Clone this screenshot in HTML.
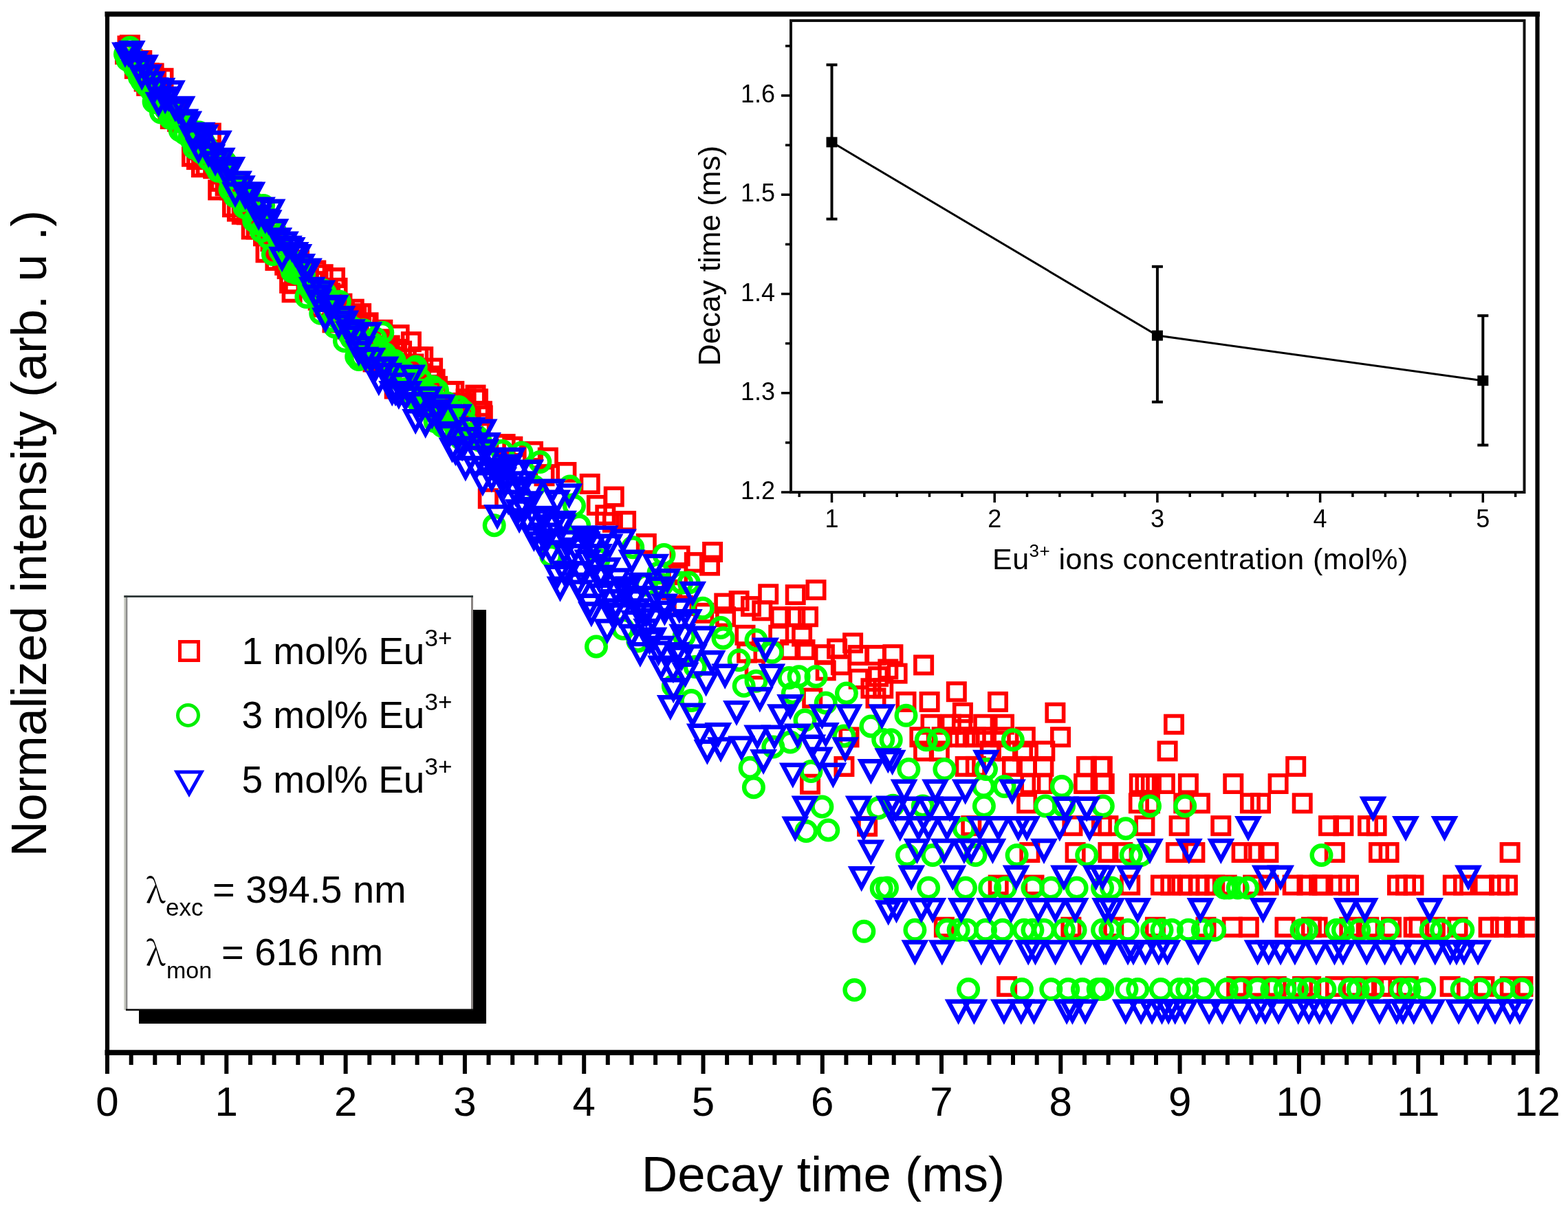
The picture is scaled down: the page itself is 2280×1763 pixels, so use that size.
<!DOCTYPE html><html><head><meta charset="utf-8"><title>Decay curves</title><style>html,body{margin:0;padding:0;background:#fff;overflow:hidden}svg{display:block}</style></head><body><svg width="2280" height="1763" viewBox="0 0 2280 1763">
<rect x="0" y="0" width="2280" height="1763" fill="#fff"/>
<defs><clipPath id="pc"><rect x="159" y="24" width="2073" height="1503"/></clipPath></defs>
<g fill="none" clip-path="url(#pc)">
<g stroke="#ff0000" stroke-width="5.6"><rect x="169.8" y="66.7" width="24.4" height="24.4"/><rect x="173.3" y="54.5" width="24.4" height="24.4"/><rect x="176.7" y="53.3" width="24.4" height="24.4"/><rect x="180.2" y="73.7" width="24.4" height="24.4"/><rect x="183.7" y="87.7" width="24.4" height="24.4"/><rect x="187.1" y="78.5" width="24.4" height="24.4"/><rect x="190.6" y="77.5" width="24.4" height="24.4"/><rect x="194.1" y="75.8" width="24.4" height="24.4"/><rect x="197.5" y="106.3" width="24.4" height="24.4"/><rect x="201.0" y="112.6" width="24.4" height="24.4"/><rect x="204.5" y="94.2" width="24.4" height="24.4"/><rect x="207.9" y="101.6" width="24.4" height="24.4"/><rect x="211.4" y="94.4" width="24.4" height="24.4"/><rect x="214.9" y="105.0" width="24.4" height="24.4"/><rect x="218.3" y="122.5" width="24.4" height="24.4"/><rect x="221.8" y="129.7" width="24.4" height="24.4"/><rect x="225.3" y="101.6" width="24.4" height="24.4"/><rect x="228.7" y="139.4" width="24.4" height="24.4"/><rect x="232.2" y="150.7" width="24.4" height="24.4"/><rect x="235.6" y="160.7" width="24.4" height="24.4"/><rect x="239.1" y="149.1" width="24.4" height="24.4"/><rect x="242.6" y="153.2" width="24.4" height="24.4"/><rect x="246.0" y="164.7" width="24.4" height="24.4"/><rect x="249.5" y="165.5" width="24.4" height="24.4"/><rect x="253.0" y="166.1" width="24.4" height="24.4"/><rect x="256.4" y="165.2" width="24.4" height="24.4"/><rect x="259.9" y="164.7" width="24.4" height="24.4"/><rect x="263.4" y="181.1" width="24.4" height="24.4"/><rect x="266.8" y="215.5" width="24.4" height="24.4"/><rect x="270.3" y="183.6" width="24.4" height="24.4"/><rect x="273.8" y="219.9" width="24.4" height="24.4"/><rect x="277.2" y="205.8" width="24.4" height="24.4"/><rect x="280.7" y="231.0" width="24.4" height="24.4"/><rect x="284.2" y="212.9" width="24.4" height="24.4"/><rect x="287.6" y="229.9" width="24.4" height="24.4"/><rect x="291.1" y="219.2" width="24.4" height="24.4"/><rect x="294.6" y="181.4" width="24.4" height="24.4"/><rect x="298.0" y="233.0" width="24.4" height="24.4"/><rect x="301.5" y="224.4" width="24.4" height="24.4"/><rect x="305.0" y="264.2" width="24.4" height="24.4"/><rect x="308.4" y="251.7" width="24.4" height="24.4"/><rect x="311.9" y="241.1" width="24.4" height="24.4"/><rect x="315.4" y="258.3" width="24.4" height="24.4"/><rect x="318.8" y="255.6" width="24.4" height="24.4"/><rect x="322.3" y="264.2" width="24.4" height="24.4"/><rect x="325.8" y="289.0" width="24.4" height="24.4"/><rect x="329.2" y="266.5" width="24.4" height="24.4"/><rect x="332.7" y="295.3" width="24.4" height="24.4"/><rect x="336.2" y="254.7" width="24.4" height="24.4"/><rect x="339.6" y="299.6" width="24.4" height="24.4"/><rect x="343.1" y="282.9" width="24.4" height="24.4"/><rect x="346.6" y="300.1" width="24.4" height="24.4"/><rect x="350.0" y="288.0" width="24.4" height="24.4"/><rect x="353.5" y="321.3" width="24.4" height="24.4"/><rect x="357.0" y="296.9" width="24.4" height="24.4"/><rect x="360.4" y="321.3" width="24.4" height="24.4"/><rect x="363.9" y="300.7" width="24.4" height="24.4"/><rect x="367.4" y="317.1" width="24.4" height="24.4"/><rect x="370.8" y="331.1" width="24.4" height="24.4"/><rect x="374.3" y="355.1" width="24.4" height="24.4"/><rect x="377.8" y="329.3" width="24.4" height="24.4"/><rect x="381.2" y="338.8" width="24.4" height="24.4"/><rect x="384.7" y="321.9" width="24.4" height="24.4"/><rect x="388.2" y="366.7" width="24.4" height="24.4"/><rect x="391.6" y="352.3" width="24.4" height="24.4"/><rect x="395.1" y="357.2" width="24.4" height="24.4"/><rect x="398.6" y="365.9" width="24.4" height="24.4"/><rect x="402.0" y="373.5" width="24.4" height="24.4"/><rect x="405.5" y="378.9" width="24.4" height="24.4"/><rect x="408.9" y="399.6" width="24.4" height="24.4"/><rect x="412.4" y="413.1" width="24.4" height="24.4"/><rect x="415.9" y="400.5" width="24.4" height="24.4"/><rect x="419.3" y="382.1" width="24.4" height="24.4"/><rect x="422.8" y="365.9" width="24.4" height="24.4"/><rect x="426.3" y="379.7" width="24.4" height="24.4"/><rect x="429.7" y="381.3" width="24.4" height="24.4"/><rect x="433.2" y="388.6" width="24.4" height="24.4"/><rect x="436.7" y="392.8" width="24.4" height="24.4"/><rect x="440.1" y="405.8" width="24.4" height="24.4"/><rect x="443.6" y="397.0" width="24.4" height="24.4"/><rect x="447.1" y="381.3" width="24.4" height="24.4"/><rect x="450.5" y="424.5" width="24.4" height="24.4"/><rect x="454.0" y="434.4" width="24.4" height="24.4"/><rect x="457.5" y="387.0" width="24.4" height="24.4"/><rect x="460.9" y="421.5" width="24.4" height="24.4"/><rect x="464.4" y="410.3" width="24.4" height="24.4"/><rect x="467.9" y="414.0" width="24.4" height="24.4"/><rect x="471.3" y="457.1" width="24.4" height="24.4"/><rect x="474.8" y="391.9" width="24.4" height="24.4"/><rect x="478.3" y="406.7" width="24.4" height="24.4"/><rect x="481.7" y="437.5" width="24.4" height="24.4"/><rect x="485.2" y="429.4" width="24.4" height="24.4"/><rect x="488.7" y="442.8" width="24.4" height="24.4"/><rect x="492.1" y="466.4" width="24.4" height="24.4"/><rect x="495.6" y="452.6" width="24.4" height="24.4"/><rect x="499.1" y="447.1" width="24.4" height="24.4"/><rect x="502.5" y="437.5" width="24.4" height="24.4"/><rect x="506.0" y="447.1" width="24.4" height="24.4"/><rect x="509.5" y="461.7" width="24.4" height="24.4"/><rect x="512.9" y="443.9" width="24.4" height="24.4"/><rect x="516.4" y="482.4" width="24.4" height="24.4"/><rect x="519.9" y="458.2" width="24.4" height="24.4"/><rect x="523.3" y="457.1" width="24.4" height="24.4"/><rect x="526.8" y="482.4" width="24.4" height="24.4"/><rect x="530.3" y="514.2" width="24.4" height="24.4"/><rect x="533.7" y="499.8" width="24.4" height="24.4"/><rect x="537.2" y="483.7" width="24.4" height="24.4"/><rect x="540.7" y="481.2" width="24.4" height="24.4"/><rect x="544.1" y="467.6" width="24.4" height="24.4"/><rect x="547.6" y="514.2" width="24.4" height="24.4"/><rect x="551.1" y="498.4" width="24.4" height="24.4"/><rect x="554.5" y="490.3" width="24.4" height="24.4"/><rect x="558.0" y="506.9" width="24.4" height="24.4"/><rect x="561.5" y="553.3" width="24.4" height="24.4"/><rect x="564.9" y="495.7" width="24.4" height="24.4"/><rect x="568.4" y="474.9" width="24.4" height="24.4"/><rect x="571.9" y="498.4" width="24.4" height="24.4"/><rect x="575.3" y="534.5" width="24.4" height="24.4"/><rect x="578.8" y="528.0" width="24.4" height="24.4"/><rect x="582.2" y="518.7" width="24.4" height="24.4"/><rect x="585.7" y="485.0" width="24.4" height="24.4"/><rect x="589.2" y="517.2" width="24.4" height="24.4"/><rect x="592.6" y="529.6" width="24.4" height="24.4"/><rect x="596.1" y="506.9" width="24.4" height="24.4"/><rect x="599.6" y="537.8" width="24.4" height="24.4"/><rect x="603.0" y="506.9" width="24.4" height="24.4"/><rect x="606.5" y="555.1" width="24.4" height="24.4"/><rect x="610.0" y="553.3" width="24.4" height="24.4"/><rect x="613.4" y="534.5" width="24.4" height="24.4"/><rect x="616.9" y="523.3" width="24.4" height="24.4"/><rect x="620.4" y="539.4" width="24.4" height="24.4"/><rect x="623.8" y="549.7" width="24.4" height="24.4"/><rect x="627.3" y="596.8" width="24.4" height="24.4"/><rect x="630.8" y="575.9" width="24.4" height="24.4"/><rect x="634.2" y="575.9" width="24.4" height="24.4"/><rect x="637.7" y="575.9" width="24.4" height="24.4"/><rect x="641.2" y="556.9" width="24.4" height="24.4"/><rect x="644.6" y="577.9" width="24.4" height="24.4"/><rect x="648.1" y="556.9" width="24.4" height="24.4"/><rect x="651.6" y="573.9" width="24.4" height="24.4"/><rect x="655.0" y="584.0" width="24.4" height="24.4"/><rect x="658.5" y="577.9" width="24.4" height="24.4"/><rect x="662.0" y="573.9" width="24.4" height="24.4"/><rect x="665.4" y="568.1" width="24.4" height="24.4"/><rect x="668.9" y="596.8" width="24.4" height="24.4"/><rect x="672.4" y="594.6" width="24.4" height="24.4"/><rect x="675.8" y="622.4" width="24.4" height="24.4"/><rect x="679.3" y="562.4" width="24.4" height="24.4"/><rect x="682.8" y="568.1" width="24.4" height="24.4"/><rect x="686.2" y="603.5" width="24.4" height="24.4"/><rect x="684.2" y="586.0" width="24.4" height="24.4"/><rect x="722.4" y="633.9" width="24.4" height="24.4"/><rect x="733.1" y="637.5" width="24.4" height="24.4"/><rect x="762.8" y="644.6" width="24.4" height="24.4"/><rect x="784.6" y="653.5" width="24.4" height="24.4"/><rect x="811.2" y="674.8" width="24.4" height="24.4"/><rect x="779.3" y="680.1" width="24.4" height="24.4"/><rect x="845.5" y="691.7" width="24.4" height="24.4"/><rect x="880.5" y="710.3" width="24.4" height="24.4"/><rect x="855.7" y="722.8" width="24.4" height="24.4"/><rect x="868.1" y="737.0" width="24.4" height="24.4"/><rect x="878.7" y="747.6" width="24.4" height="24.4"/><rect x="897.9" y="745.8" width="24.4" height="24.4"/><rect x="697.6" y="713.0" width="24.4" height="24.4"/><rect x="927.6" y="778.7" width="24.4" height="24.4"/><rect x="976.4" y="796.5" width="24.4" height="24.4"/><rect x="972.9" y="824.0" width="24.4" height="24.4"/><rect x="688.7" y="586.0" width="24.4" height="24.4"/><rect x="689.6" y="592.2" width="24.4" height="24.4"/><rect x="964.9" y="845.6" width="24.4" height="24.4"/><rect x="980.9" y="868.7" width="24.4" height="24.4"/><rect x="1023.9" y="790.8" width="24.4" height="24.4"/><rect x="997.6" y="805.9" width="24.4" height="24.4"/><rect x="1019.8" y="810.4" width="24.4" height="24.4"/><rect x="1105.0" y="852.1" width="24.4" height="24.4"/><rect x="1144.5" y="853.0" width="24.4" height="24.4"/><rect x="1174.3" y="845.9" width="24.4" height="24.4"/><rect x="1041.1" y="865.4" width="24.4" height="24.4"/><rect x="1062.4" y="861.9" width="24.4" height="24.4"/><rect x="1079.8" y="869.9" width="24.4" height="24.4"/><rect x="1122.8" y="885.0" width="24.4" height="24.4"/><rect x="1162.8" y="885.0" width="24.4" height="24.4"/><rect x="1144.1" y="885.0" width="24.4" height="24.4"/><rect x="1010.9" y="879.6" width="24.4" height="24.4"/><rect x="1042.9" y="885.0" width="24.4" height="24.4"/><rect x="1071.3" y="911.6" width="24.4" height="24.4"/><rect x="1120.1" y="911.6" width="24.4" height="24.4"/><rect x="1153.9" y="913.4" width="24.4" height="24.4"/><rect x="1158.3" y="932.9" width="24.4" height="24.4"/><rect x="1137.0" y="932.9" width="24.4" height="24.4"/><rect x="1227.9" y="923.1" width="24.4" height="24.4"/><rect x="1204.9" y="931.5" width="24.4" height="24.4"/><rect x="1186.7" y="940.0" width="24.4" height="24.4"/><rect x="1235.6" y="940.9" width="24.4" height="24.4"/><rect x="1261.3" y="940.9" width="24.4" height="24.4"/><rect x="1279.1" y="961.3" width="24.4" height="24.4"/><rect x="1210.7" y="955.1" width="24.4" height="24.4"/><rect x="1236.5" y="975.5" width="24.4" height="24.4"/><rect x="1264.9" y="972.0" width="24.4" height="24.4"/><rect x="1188.5" y="963.1" width="24.4" height="24.4"/><rect x="1073.9" y="937.4" width="24.4" height="24.4"/><rect x="1085.5" y="961.3" width="24.4" height="24.4"/><rect x="1096.1" y="876.1" width="24.4" height="24.4"/><rect x="1286.2" y="940.0" width="24.4" height="24.4"/><rect x="1165.8" y="1128.5" width="24.4" height="24.4"/><rect x="1169.0" y="1003.3" width="24.4" height="24.4"/><rect x="1222.3" y="1060.2" width="24.4" height="24.4"/><rect x="1215.2" y="1102.8" width="24.4" height="24.4"/><rect x="1248.9" y="1189.8" width="24.4" height="24.4"/><rect x="1254.2" y="989.1" width="24.4" height="24.4"/><rect x="1272.0" y="989.1" width="24.4" height="24.4"/><rect x="1261.3" y="1003.3" width="24.4" height="24.4"/><rect x="1292.4" y="967.4" width="24.4" height="24.4"/><rect x="1330.9" y="955.2" width="24.4" height="24.4"/><rect x="1378.6" y="994.0" width="24.4" height="24.4"/><rect x="1305.3" y="1008.7" width="24.4" height="24.4"/><rect x="1339.4" y="1008.7" width="24.4" height="24.4"/><rect x="1438.8" y="1008.7" width="24.4" height="24.4"/><rect x="1387.7" y="1024.5" width="24.4" height="24.4"/><rect x="1522.2" y="1024.5" width="24.4" height="24.4"/><rect x="1341.3" y="1041.5" width="24.4" height="24.4"/><rect x="1370.6" y="1041.5" width="24.4" height="24.4"/><rect x="1386.7" y="1041.5" width="24.4" height="24.4"/><rect x="1418.0" y="1041.5" width="24.4" height="24.4"/><rect x="1447.8" y="1041.5" width="24.4" height="24.4"/><rect x="1325.2" y="1060.0" width="24.4" height="24.4"/><rect x="1357.4" y="1060.0" width="24.4" height="24.4"/><rect x="1378.2" y="1060.0" width="24.4" height="24.4"/><rect x="1391.5" y="1060.0" width="24.4" height="24.4"/><rect x="1406.6" y="1060.0" width="24.4" height="24.4"/><rect x="1421.8" y="1060.0" width="24.4" height="24.4"/><rect x="1442.6" y="1060.0" width="24.4" height="24.4"/><rect x="1478.6" y="1060.0" width="24.4" height="24.4"/><rect x="1529.8" y="1060.0" width="24.4" height="24.4"/><rect x="1330.9" y="1080.3" width="24.4" height="24.4"/><rect x="1353.6" y="1080.3" width="24.4" height="24.4"/><rect x="1427.5" y="1080.3" width="24.4" height="24.4"/><rect x="1453.1" y="1080.3" width="24.4" height="24.4"/><rect x="1474.8" y="1080.3" width="24.4" height="24.4"/><rect x="1507.1" y="1080.3" width="24.4" height="24.4"/><rect x="1391.5" y="1102.7" width="24.4" height="24.4"/><rect x="1406.6" y="1102.7" width="24.4" height="24.4"/><rect x="1459.7" y="1102.7" width="24.4" height="24.4"/><rect x="1480.5" y="1102.7" width="24.4" height="24.4"/><rect x="1505.2" y="1102.7" width="24.4" height="24.4"/><rect x="1567.7" y="1102.7" width="24.4" height="24.4"/><rect x="1588.5" y="1102.7" width="24.4" height="24.4"/><rect x="1486.2" y="1127.8" width="24.4" height="24.4"/><rect x="1503.3" y="1127.8" width="24.4" height="24.4"/><rect x="1563.9" y="1127.8" width="24.4" height="24.4"/><rect x="1590.4" y="1127.8" width="24.4" height="24.4"/><rect x="1451.9" y="1422.8" width="24.4" height="24.4"/><rect x="1360.7" y="1336.5" width="24.4" height="24.4"/><rect x="1545.2" y="1336.5" width="24.4" height="24.4"/><rect x="1439.5" y="1275.3" width="24.4" height="24.4"/><rect x="1491.3" y="1275.3" width="24.4" height="24.4"/><rect x="1485.1" y="1227.8" width="24.4" height="24.4"/><rect x="1551.4" y="1227.8" width="24.4" height="24.4"/><rect x="1400.1" y="1189.0" width="24.4" height="24.4"/><rect x="1547.2" y="1189.0" width="24.4" height="24.4"/><rect x="1480.9" y="1156.2" width="24.4" height="24.4"/><rect x="1694.8" y="1041.5" width="24.4" height="24.4"/><rect x="1685.4" y="1080.3" width="24.4" height="24.4"/><rect x="1590.6" y="1102.7" width="24.4" height="24.4"/><rect x="1872.0" y="1102.7" width="24.4" height="24.4"/><rect x="1593.5" y="1127.8" width="24.4" height="24.4"/><rect x="1644.6" y="1127.8" width="24.4" height="24.4"/><rect x="1653.2" y="1127.8" width="24.4" height="24.4"/><rect x="1661.7" y="1127.8" width="24.4" height="24.4"/><rect x="1681.6" y="1127.8" width="24.4" height="24.4"/><rect x="1715.7" y="1127.8" width="24.4" height="24.4"/><rect x="1781.1" y="1127.8" width="24.4" height="24.4"/><rect x="1846.4" y="1127.8" width="24.4" height="24.4"/><rect x="1643.7" y="1156.2" width="24.4" height="24.4"/><rect x="1659.8" y="1156.2" width="24.4" height="24.4"/><rect x="1709.1" y="1156.2" width="24.4" height="24.4"/><rect x="1732.7" y="1156.2" width="24.4" height="24.4"/><rect x="1805.7" y="1156.2" width="24.4" height="24.4"/><rect x="1820.8" y="1156.2" width="24.4" height="24.4"/><rect x="1881.5" y="1156.2" width="24.4" height="24.4"/><rect x="1589.7" y="1189.0" width="24.4" height="24.4"/><rect x="1599.2" y="1189.0" width="24.4" height="24.4"/><rect x="1652.2" y="1189.0" width="24.4" height="24.4"/><rect x="1702.4" y="1189.0" width="24.4" height="24.4"/><rect x="1763.1" y="1189.0" width="24.4" height="24.4"/><rect x="1599.2" y="1227.8" width="24.4" height="24.4"/><rect x="1620.0" y="1227.8" width="24.4" height="24.4"/><rect x="1697.7" y="1227.8" width="24.4" height="24.4"/><rect x="1725.2" y="1227.8" width="24.4" height="24.4"/><rect x="1793.4" y="1227.8" width="24.4" height="24.4"/><rect x="1811.4" y="1227.8" width="24.4" height="24.4"/><rect x="1832.2" y="1227.8" width="24.4" height="24.4"/><rect x="1631.0" y="1275.3" width="24.4" height="24.4"/><rect x="1675.7" y="1275.3" width="24.4" height="24.4"/><rect x="1690.1" y="1275.3" width="24.4" height="24.4"/><rect x="1706.1" y="1275.3" width="24.4" height="24.4"/><rect x="1717.3" y="1275.3" width="24.4" height="24.4"/><rect x="1731.7" y="1275.3" width="24.4" height="24.4"/><rect x="1741.3" y="1275.3" width="24.4" height="24.4"/><rect x="1754.0" y="1275.3" width="24.4" height="24.4"/><rect x="1771.6" y="1275.3" width="24.4" height="24.4"/><rect x="1810.0" y="1275.3" width="24.4" height="24.4"/><rect x="1832.4" y="1275.3" width="24.4" height="24.4"/><rect x="1867.5" y="1275.3" width="24.4" height="24.4"/><rect x="1888.3" y="1275.3" width="24.4" height="24.4"/><rect x="1905.9" y="1275.3" width="24.4" height="24.4"/><rect x="1607.0" y="1336.5" width="24.4" height="24.4"/><rect x="1667.7" y="1336.5" width="24.4" height="24.4"/><rect x="1741.3" y="1336.5" width="24.4" height="24.4"/><rect x="1779.6" y="1336.5" width="24.4" height="24.4"/><rect x="1803.6" y="1336.5" width="24.4" height="24.4"/><rect x="1856.3" y="1336.5" width="24.4" height="24.4"/><rect x="1894.7" y="1336.5" width="24.4" height="24.4"/><rect x="1786.0" y="1422.8" width="24.4" height="24.4"/><rect x="1814.8" y="1422.8" width="24.4" height="24.4"/><rect x="1843.6" y="1422.8" width="24.4" height="24.4"/><rect x="1881.9" y="1422.8" width="24.4" height="24.4"/><rect x="1919.8" y="1189.0" width="24.4" height="24.4"/><rect x="1941.2" y="1189.0" width="24.4" height="24.4"/><rect x="1976.8" y="1189.0" width="24.4" height="24.4"/><rect x="1989.4" y="1189.0" width="24.4" height="24.4"/><rect x="1928.6" y="1227.8" width="24.4" height="24.4"/><rect x="1992.8" y="1227.8" width="24.4" height="24.4"/><rect x="2007.4" y="1227.8" width="24.4" height="24.4"/><rect x="2183.4" y="1227.8" width="24.4" height="24.4"/><rect x="1910.8" y="1275.3" width="24.4" height="24.4"/><rect x="1935.8" y="1275.3" width="24.4" height="24.4"/><rect x="1948.8" y="1275.3" width="24.4" height="24.4"/><rect x="2019.8" y="1275.3" width="24.4" height="24.4"/><rect x="2031.8" y="1275.3" width="24.4" height="24.4"/><rect x="2043.3" y="1275.3" width="24.4" height="24.4"/><rect x="2100.6" y="1275.3" width="24.4" height="24.4"/><rect x="2115.8" y="1275.3" width="24.4" height="24.4"/><rect x="2145.8" y="1275.3" width="24.4" height="24.4"/><rect x="2167.8" y="1275.3" width="24.4" height="24.4"/><rect x="2179.8" y="1275.3" width="24.4" height="24.4"/><rect x="1903.4" y="1336.5" width="24.4" height="24.4"/><rect x="1950.1" y="1336.5" width="24.4" height="24.4"/><rect x="1978.1" y="1336.5" width="24.4" height="24.4"/><rect x="2010.8" y="1336.5" width="24.4" height="24.4"/><rect x="2043.5" y="1336.5" width="24.4" height="24.4"/><rect x="2051.2" y="1336.5" width="24.4" height="24.4"/><rect x="2074.6" y="1336.5" width="24.4" height="24.4"/><rect x="2107.3" y="1336.5" width="24.4" height="24.4"/><rect x="2152.4" y="1336.5" width="24.4" height="24.4"/><rect x="2169.6" y="1336.5" width="24.4" height="24.4"/><rect x="2189.8" y="1336.5" width="24.4" height="24.4"/><rect x="2210.0" y="1336.5" width="24.4" height="24.4"/><rect x="1894.0" y="1422.8" width="24.4" height="24.4"/><rect x="1929.8" y="1422.8" width="24.4" height="24.4"/><rect x="1953.2" y="1422.8" width="24.4" height="24.4"/><rect x="1975.0" y="1422.8" width="24.4" height="24.4"/><rect x="1996.8" y="1422.8" width="24.4" height="24.4"/><rect x="2009.2" y="1422.8" width="24.4" height="24.4"/><rect x="2035.7" y="1422.8" width="24.4" height="24.4"/><rect x="2096.4" y="1422.8" width="24.4" height="24.4"/><rect x="2146.2" y="1422.8" width="24.4" height="24.4"/><rect x="2183.6" y="1422.8" width="24.4" height="24.4"/><rect x="2202.2" y="1422.8" width="24.4" height="24.4"/></g>
<g stroke="#00ff00" stroke-width="6.4"><circle cx="182.0" cy="78.8" r="13.8"/><circle cx="185.5" cy="87.3" r="13.8"/><circle cx="188.9" cy="69.2" r="13.8"/><circle cx="192.4" cy="91.8" r="13.8"/><circle cx="195.9" cy="98.2" r="13.8"/><circle cx="199.3" cy="100.9" r="13.8"/><circle cx="202.8" cy="111.9" r="13.8"/><circle cx="206.3" cy="117.8" r="13.8"/><circle cx="209.7" cy="113.3" r="13.8"/><circle cx="213.2" cy="124.5" r="13.8"/><circle cx="216.7" cy="120.1" r="13.8"/><circle cx="220.1" cy="131.7" r="13.8"/><circle cx="223.6" cy="148.1" r="13.8"/><circle cx="227.1" cy="149.1" r="13.8"/><circle cx="230.5" cy="149.8" r="13.8"/><circle cx="234.0" cy="163.5" r="13.8"/><circle cx="237.5" cy="152.8" r="13.8"/><circle cx="240.9" cy="158.7" r="13.8"/><circle cx="244.4" cy="153.6" r="13.8"/><circle cx="247.8" cy="172.1" r="13.8"/><circle cx="251.3" cy="171.3" r="13.8"/><circle cx="254.8" cy="168.8" r="13.8"/><circle cx="258.2" cy="171.3" r="13.8"/><circle cx="261.7" cy="189.7" r="13.8"/><circle cx="265.2" cy="173.0" r="13.8"/><circle cx="268.6" cy="194.2" r="13.8"/><circle cx="272.1" cy="182.9" r="13.8"/><circle cx="275.6" cy="199.2" r="13.8"/><circle cx="279.0" cy="204.3" r="13.8"/><circle cx="282.5" cy="215.5" r="13.8"/><circle cx="286.0" cy="209.5" r="13.8"/><circle cx="289.4" cy="192.4" r="13.8"/><circle cx="292.9" cy="222.0" r="13.8"/><circle cx="296.4" cy="206.9" r="13.8"/><circle cx="299.8" cy="212.5" r="13.8"/><circle cx="303.3" cy="231.7" r="13.8"/><circle cx="306.8" cy="221.7" r="13.8"/><circle cx="310.2" cy="223.1" r="13.8"/><circle cx="313.7" cy="242.6" r="13.8"/><circle cx="317.2" cy="248.8" r="13.8"/><circle cx="320.6" cy="236.9" r="13.8"/><circle cx="324.1" cy="248.0" r="13.8"/><circle cx="327.6" cy="235.4" r="13.8"/><circle cx="331.0" cy="255.2" r="13.8"/><circle cx="334.5" cy="275.8" r="13.8"/><circle cx="338.0" cy="269.2" r="13.8"/><circle cx="341.4" cy="285.5" r="13.8"/><circle cx="344.9" cy="270.0" r="13.8"/><circle cx="348.4" cy="275.4" r="13.8"/><circle cx="351.8" cy="291.7" r="13.8"/><circle cx="355.3" cy="301.6" r="13.8"/><circle cx="358.8" cy="286.9" r="13.8"/><circle cx="362.2" cy="305.2" r="13.8"/><circle cx="365.7" cy="292.7" r="13.8"/><circle cx="369.2" cy="321.3" r="13.8"/><circle cx="372.6" cy="318.0" r="13.8"/><circle cx="376.1" cy="325.8" r="13.8"/><circle cx="379.6" cy="336.3" r="13.8"/><circle cx="383.0" cy="299.1" r="13.8"/><circle cx="386.5" cy="314.2" r="13.8"/><circle cx="390.0" cy="345.5" r="13.8"/><circle cx="393.4" cy="333.3" r="13.8"/><circle cx="396.9" cy="369.9" r="13.8"/><circle cx="400.4" cy="336.9" r="13.8"/><circle cx="403.8" cy="343.6" r="13.8"/><circle cx="407.3" cy="365.0" r="13.8"/><circle cx="410.8" cy="369.9" r="13.8"/><circle cx="414.2" cy="367.1" r="13.8"/><circle cx="417.7" cy="369.2" r="13.8"/><circle cx="421.1" cy="384.4" r="13.8"/><circle cx="424.6" cy="395.1" r="13.8"/><circle cx="428.1" cy="391.2" r="13.8"/><circle cx="431.5" cy="397.5" r="13.8"/><circle cx="435.0" cy="385.1" r="13.8"/><circle cx="438.5" cy="398.3" r="13.8"/><circle cx="441.9" cy="399.9" r="13.8"/><circle cx="445.4" cy="432.0" r="13.8"/><circle cx="448.9" cy="416.7" r="13.8"/><circle cx="452.3" cy="421.1" r="13.8"/><circle cx="455.8" cy="427.4" r="13.8"/><circle cx="459.3" cy="425.6" r="13.8"/><circle cx="462.7" cy="432.0" r="13.8"/><circle cx="466.2" cy="455.8" r="13.8"/><circle cx="469.7" cy="422.0" r="13.8"/><circle cx="473.1" cy="426.5" r="13.8"/><circle cx="476.6" cy="451.7" r="13.8"/><circle cx="480.1" cy="438.7" r="13.8"/><circle cx="483.5" cy="466.6" r="13.8"/><circle cx="487.0" cy="475.6" r="13.8"/><circle cx="490.5" cy="462.2" r="13.8"/><circle cx="493.9" cy="438.7" r="13.8"/><circle cx="497.4" cy="467.7" r="13.8"/><circle cx="500.9" cy="496.1" r="13.8"/><circle cx="504.3" cy="468.8" r="13.8"/><circle cx="507.8" cy="486.2" r="13.8"/><circle cx="511.3" cy="492.3" r="13.8"/><circle cx="514.7" cy="477.9" r="13.8"/><circle cx="518.2" cy="518.8" r="13.8"/><circle cx="521.7" cy="523.1" r="13.8"/><circle cx="525.1" cy="520.2" r="13.8"/><circle cx="528.6" cy="480.2" r="13.8"/><circle cx="532.1" cy="499.9" r="13.8"/><circle cx="535.5" cy="516.0" r="13.8"/><circle cx="539.0" cy="520.2" r="13.8"/><circle cx="542.5" cy="499.9" r="13.8"/><circle cx="545.9" cy="492.3" r="13.8"/><circle cx="549.4" cy="530.4" r="13.8"/><circle cx="552.9" cy="514.6" r="13.8"/><circle cx="556.3" cy="483.8" r="13.8"/><circle cx="559.8" cy="514.6" r="13.8"/><circle cx="563.3" cy="534.9" r="13.8"/><circle cx="566.7" cy="524.5" r="13.8"/><circle cx="570.2" cy="531.9" r="13.8"/><circle cx="573.7" cy="524.5" r="13.8"/><circle cx="577.1" cy="533.4" r="13.8"/><circle cx="580.6" cy="552.3" r="13.8"/><circle cx="584.1" cy="547.4" r="13.8"/><circle cx="587.5" cy="541.1" r="13.8"/><circle cx="591.0" cy="565.9" r="13.8"/><circle cx="594.4" cy="552.3" r="13.8"/><circle cx="597.9" cy="576.8" r="13.8"/><circle cx="601.4" cy="536.4" r="13.8"/><circle cx="604.8" cy="533.4" r="13.8"/><circle cx="608.3" cy="584.3" r="13.8"/><circle cx="611.8" cy="552.3" r="13.8"/><circle cx="615.2" cy="567.7" r="13.8"/><circle cx="618.7" cy="573.1" r="13.8"/><circle cx="622.2" cy="582.4" r="13.8"/><circle cx="625.6" cy="574.9" r="13.8"/><circle cx="629.1" cy="562.4" r="13.8"/><circle cx="632.6" cy="613.0" r="13.8"/><circle cx="636.0" cy="567.7" r="13.8"/><circle cx="639.5" cy="598.2" r="13.8"/><circle cx="643.0" cy="619.7" r="13.8"/><circle cx="646.4" cy="598.2" r="13.8"/><circle cx="649.9" cy="586.2" r="13.8"/><circle cx="653.4" cy="604.4" r="13.8"/><circle cx="656.8" cy="600.2" r="13.8"/><circle cx="660.3" cy="617.4" r="13.8"/><circle cx="663.8" cy="624.2" r="13.8"/><circle cx="667.2" cy="592.1" r="13.8"/><circle cx="670.7" cy="638.6" r="13.8"/><circle cx="674.2" cy="598.2" r="13.8"/><circle cx="677.6" cy="615.2" r="13.8"/><circle cx="681.1" cy="631.3" r="13.8"/><circle cx="684.6" cy="631.3" r="13.8"/><circle cx="688.0" cy="636.1" r="13.8"/><circle cx="691.5" cy="633.7" r="13.8"/><circle cx="695.0" cy="636.1" r="13.8"/><circle cx="698.4" cy="641.1" r="13.8"/><circle cx="730.2" cy="655.9" r="13.8"/><circle cx="758.6" cy="658.6" r="13.8"/><circle cx="785.3" cy="671.9" r="13.8"/><circle cx="828.8" cy="707.4" r="13.8"/><circle cx="835.0" cy="735.8" r="13.8"/><circle cx="842.1" cy="764.3" r="13.8"/><circle cx="718.7" cy="764.3" r="13.8"/><circle cx="776.4" cy="707.4" r="13.8"/><circle cx="965.5" cy="806.9" r="13.8"/><circle cx="957.5" cy="833.5" r="13.8"/><circle cx="991.3" cy="847.7" r="13.8"/><circle cx="870.5" cy="814.0" r="13.8"/><circle cx="801.2" cy="808.7" r="13.8"/><circle cx="920.2" cy="796.2" r="13.8"/><circle cx="867.0" cy="940.4" r="13.8"/><circle cx="906.0" cy="914.6" r="13.8"/><circle cx="978.9" cy="998.1" r="13.8"/><circle cx="927.4" cy="932.4" r="13.8"/><circle cx="939.8" cy="850.7" r="13.8"/><circle cx="962.9" cy="850.7" r="13.8"/><circle cx="994.8" cy="925.3" r="13.8"/><circle cx="1021.7" cy="884.7" r="13.8"/><circle cx="1051.5" cy="928.2" r="13.8"/><circle cx="1099.5" cy="930.9" r="13.8"/><circle cx="1074.6" cy="960.2" r="13.8"/><circle cx="1122.6" cy="948.7" r="13.8"/><circle cx="1147.4" cy="986.0" r="13.8"/><circle cx="1161.6" cy="984.2" r="13.8"/><circle cx="1186.5" cy="984.2" r="13.8"/><circle cx="1048.0" cy="913.1" r="13.8"/><circle cx="1010.7" cy="970.0" r="13.8"/><circle cx="1001.8" cy="847.4" r="13.8"/><circle cx="1081.7" cy="997.8" r="13.8"/><circle cx="1099.5" cy="990.7" r="13.8"/><circle cx="1152.8" cy="1008.4" r="13.8"/><circle cx="1230.9" cy="1008.4" r="13.8"/><circle cx="1200.7" cy="1022.6" r="13.8"/><circle cx="1005.3" cy="1019.1" r="13.8"/><circle cx="1170.5" cy="1047.5" r="13.8"/><circle cx="1266.4" cy="1056.4" r="13.8"/><circle cx="1284.2" cy="1075.9" r="13.8"/><circle cx="1227.4" cy="1070.6" r="13.8"/><circle cx="1090.6" cy="1116.8" r="13.8"/><circle cx="1095.9" cy="1145.2" r="13.8"/><circle cx="1179.4" cy="1122.1" r="13.8"/><circle cx="1195.4" cy="1173.6" r="13.8"/><circle cx="1204.3" cy="1207.4" r="13.8"/><circle cx="1172.3" cy="1209.1" r="13.8"/><circle cx="1277.1" cy="1175.4" r="13.8"/><circle cx="1124.3" cy="1086.6" r="13.8"/><circle cx="1149.2" cy="1079.5" r="13.8"/><circle cx="1298.4" cy="1171.8" r="13.8"/><circle cx="1281.7" cy="1292.3" r="13.8"/><circle cx="1256.3" cy="1354.7" r="13.8"/><circle cx="1242.4" cy="1440.1" r="13.8"/><circle cx="1317.5" cy="1040.7" r="13.8"/><circle cx="1295.7" cy="1076.2" r="13.8"/><circle cx="1346.8" cy="1076.2" r="13.8"/><circle cx="1364.8" cy="1076.2" r="13.8"/><circle cx="1472.8" cy="1076.2" r="13.8"/><circle cx="1321.3" cy="1118.9" r="13.8"/><circle cx="1373.4" cy="1118.9" r="13.8"/><circle cx="1434.0" cy="1118.9" r="13.8"/><circle cx="1430.2" cy="1144.0" r="13.8"/><circle cx="1460.5" cy="1144.0" r="13.8"/><circle cx="1543.9" cy="1144.0" r="13.8"/><circle cx="1408.1" cy="1439.0" r="13.8"/><circle cx="1485.9" cy="1439.0" r="13.8"/><circle cx="1528.3" cy="1439.0" r="13.8"/><circle cx="1553.2" cy="1439.0" r="13.8"/><circle cx="1573.9" cy="1439.0" r="13.8"/><circle cx="1596.7" cy="1439.0" r="13.8"/><circle cx="1330.4" cy="1352.7" r="13.8"/><circle cx="1377.0" cy="1352.7" r="13.8"/><circle cx="1393.6" cy="1352.7" r="13.8"/><circle cx="1406.1" cy="1352.7" r="13.8"/><circle cx="1433.0" cy="1352.7" r="13.8"/><circle cx="1457.9" cy="1352.7" r="13.8"/><circle cx="1489.0" cy="1352.7" r="13.8"/><circle cx="1501.4" cy="1352.7" r="13.8"/><circle cx="1518.0" cy="1352.7" r="13.8"/><circle cx="1547.0" cy="1352.7" r="13.8"/><circle cx="1563.6" cy="1352.7" r="13.8"/><circle cx="1603.0" cy="1352.7" r="13.8"/><circle cx="1290.0" cy="1291.5" r="13.8"/><circle cx="1350.1" cy="1291.5" r="13.8"/><circle cx="1404.0" cy="1291.5" r="13.8"/><circle cx="1439.2" cy="1291.5" r="13.8"/><circle cx="1462.0" cy="1291.5" r="13.8"/><circle cx="1501.4" cy="1291.5" r="13.8"/><circle cx="1528.3" cy="1291.5" r="13.8"/><circle cx="1565.6" cy="1291.5" r="13.8"/><circle cx="1603.0" cy="1291.5" r="13.8"/><circle cx="1319.0" cy="1244.0" r="13.8"/><circle cx="1356.3" cy="1244.0" r="13.8"/><circle cx="1418.5" cy="1244.0" r="13.8"/><circle cx="1478.6" cy="1244.0" r="13.8"/><circle cx="1580.2" cy="1244.0" r="13.8"/><circle cx="1401.9" cy="1205.2" r="13.8"/><circle cx="1341.8" cy="1172.4" r="13.8"/><circle cx="1430.9" cy="1172.4" r="13.8"/><circle cx="1520.1" cy="1172.4" r="13.8"/><circle cx="1547.0" cy="1172.4" r="13.8"/><circle cx="1603.8" cy="1172.4" r="13.8"/><circle cx="1672.0" cy="1172.4" r="13.8"/><circle cx="1723.2" cy="1172.4" r="13.8"/><circle cx="1636.9" cy="1205.2" r="13.8"/><circle cx="1644.8" cy="1244.0" r="13.8"/><circle cx="1659.1" cy="1244.0" r="13.8"/><circle cx="1616.0" cy="1291.5" r="13.8"/><circle cx="1780.6" cy="1291.5" r="13.8"/><circle cx="1787.0" cy="1291.5" r="13.8"/><circle cx="1799.8" cy="1291.5" r="13.8"/><circle cx="1814.2" cy="1291.5" r="13.8"/><circle cx="1614.4" cy="1352.7" r="13.8"/><circle cx="1640.0" cy="1352.7" r="13.8"/><circle cx="1675.1" cy="1352.7" r="13.8"/><circle cx="1689.5" cy="1352.7" r="13.8"/><circle cx="1703.9" cy="1352.7" r="13.8"/><circle cx="1727.9" cy="1352.7" r="13.8"/><circle cx="1748.7" cy="1352.7" r="13.8"/><circle cx="1766.2" cy="1352.7" r="13.8"/><circle cx="1892.5" cy="1352.7" r="13.8"/><circle cx="1603.2" cy="1439.0" r="13.8"/><circle cx="1638.4" cy="1439.0" r="13.8"/><circle cx="1654.3" cy="1439.0" r="13.8"/><circle cx="1687.9" cy="1439.0" r="13.8"/><circle cx="1715.1" cy="1439.0" r="13.8"/><circle cx="1726.3" cy="1439.0" r="13.8"/><circle cx="1750.3" cy="1439.0" r="13.8"/><circle cx="1783.8" cy="1439.0" r="13.8"/><circle cx="1804.6" cy="1439.0" r="13.8"/><circle cx="1828.6" cy="1439.0" r="13.8"/><circle cx="1849.4" cy="1439.0" r="13.8"/><circle cx="1868.5" cy="1439.0" r="13.8"/><circle cx="1886.1" cy="1439.0" r="13.8"/><circle cx="1921.5" cy="1244.0" r="13.8"/><circle cx="1900.0" cy="1352.7" r="13.8"/><circle cx="1943.6" cy="1352.7" r="13.8"/><circle cx="1952.9" cy="1352.7" r="13.8"/><circle cx="1976.3" cy="1352.7" r="13.8"/><circle cx="1996.5" cy="1352.7" r="13.8"/><circle cx="2018.3" cy="1352.7" r="13.8"/><circle cx="2080.6" cy="1352.7" r="13.8"/><circle cx="2096.1" cy="1352.7" r="13.8"/><circle cx="2127.3" cy="1352.7" r="13.8"/><circle cx="1903.1" cy="1439.0" r="13.8"/><circle cx="1926.5" cy="1439.0" r="13.8"/><circle cx="1962.3" cy="1439.0" r="13.8"/><circle cx="1974.7" cy="1439.0" r="13.8"/><circle cx="1996.5" cy="1439.0" r="13.8"/><circle cx="2037.0" cy="1439.0" r="13.8"/><circle cx="2049.4" cy="1439.0" r="13.8"/><circle cx="2071.2" cy="1439.0" r="13.8"/><circle cx="2125.7" cy="1439.0" r="13.8"/><circle cx="2152.2" cy="1439.0" r="13.8"/><circle cx="2186.4" cy="1439.0" r="13.8"/><circle cx="2212.9" cy="1439.0" r="13.8"/></g>
<g stroke="#0000ff" stroke-width="6.4" stroke-linejoin="miter"><path d="M167.4 64.7H196.6L182.0 91.9Z"/><path d="M172.2 64.5H201.4L186.8 91.7Z"/><path d="M177.1 62.2H206.3L191.7 89.4Z"/><path d="M182.0 77.3H211.2L196.6 104.5Z"/><path d="M186.8 87.3H216.0L201.4 114.5Z"/><path d="M191.7 98.0H220.9L206.3 125.2Z"/><path d="M196.5 82.8H225.7L211.1 110.0Z"/><path d="M201.4 96.6H230.6L216.0 123.8Z"/><path d="M206.2 106.6H235.4L220.8 133.8Z"/><path d="M211.1 115.6H240.3L225.7 142.8Z"/><path d="M215.9 136.9H245.1L230.5 164.1Z"/><path d="M220.8 116.5H250.0L235.4 143.7Z"/><path d="M225.6 132.2H254.8L240.2 159.4Z"/><path d="M230.5 129.0H259.7L245.1 156.2Z"/><path d="M235.3 119.9H264.5L249.9 147.1Z"/><path d="M240.2 143.7H269.4L254.8 170.9Z"/><path d="M245.0 147.9H274.2L259.6 175.1Z"/><path d="M249.9 143.0H279.1L264.5 170.2Z"/><path d="M254.7 161.7H283.9L269.3 188.9Z"/><path d="M259.6 164.7H288.8L274.2 191.9Z"/><path d="M264.4 185.5H293.6L279.0 212.7Z"/><path d="M269.3 189.6H298.5L283.9 216.8Z"/><path d="M274.1 204.8H303.3L288.7 232.0Z"/><path d="M279.0 181.0H308.2L293.6 208.2Z"/><path d="M283.9 184.2H313.1L298.5 211.4Z"/><path d="M288.7 210.5H317.9L303.3 237.7Z"/><path d="M293.6 213.3H322.8L308.2 240.5Z"/><path d="M298.4 222.7H327.6L313.0 249.9Z"/><path d="M303.3 193.0H332.5L317.9 220.2Z"/><path d="M308.1 217.9H337.3L322.7 245.1Z"/><path d="M313.0 237.8H342.2L327.6 265.0Z"/><path d="M317.8 233.6H347.0L332.4 260.8Z"/><path d="M322.7 231.3H351.9L337.3 258.5Z"/><path d="M327.5 268.2H356.7L342.1 295.4Z"/><path d="M332.4 251.7H361.6L347.0 278.9Z"/><path d="M337.2 258.4H366.4L351.8 285.6Z"/><path d="M342.1 271.8H371.3L356.7 299.0Z"/><path d="M346.9 267.8H376.1L361.5 295.0Z"/><path d="M351.8 267.8H381.0L366.4 295.0Z"/><path d="M356.6 290.0H385.8L371.2 317.2Z"/><path d="M361.5 301.9H390.7L376.1 329.1Z"/><path d="M366.3 289.6H395.5L380.9 316.8Z"/><path d="M371.2 306.6H400.4L385.8 333.8Z"/><path d="M376.0 308.5H405.2L390.6 335.7Z"/><path d="M380.9 292.7H410.1L395.5 319.9Z"/><path d="M385.8 321.5H415.0L400.4 348.7Z"/><path d="M390.6 334.1H419.8L405.2 361.3Z"/><path d="M395.5 362.0H424.7L410.1 389.2Z"/><path d="M400.3 339.6H429.5L414.9 366.8Z"/><path d="M405.2 345.9H434.4L419.8 373.1Z"/><path d="M410.0 348.2H439.2L424.6 375.4Z"/><path d="M414.9 355.3H444.1L429.5 382.5Z"/><path d="M419.7 358.3H448.9L434.3 385.5Z"/><path d="M424.6 372.2H453.8L439.2 399.4Z"/><path d="M429.4 380.1H458.6L444.0 407.3Z"/><path d="M434.3 378.8H463.5L448.9 406.0Z"/><path d="M439.1 406.0H468.3L453.7 433.2Z"/><path d="M444.0 416.9H473.2L458.6 444.1Z"/><path d="M448.8 423.4H478.0L463.4 450.6Z"/><path d="M453.7 410.6H482.9L468.3 437.8Z"/><path d="M458.5 450.8H487.7L473.1 478.0Z"/><path d="M463.4 433.6H492.6L478.0 460.8Z"/><path d="M468.2 433.6H497.4L482.8 460.8Z"/><path d="M473.1 431.9H502.3L487.7 459.1Z"/><path d="M477.9 460.4H507.1L492.5 487.6Z"/><path d="M482.8 448.0H512.0L497.4 475.2Z"/><path d="M487.7 454.6H516.9L502.3 481.8Z"/><path d="M492.5 470.5H521.7L507.1 497.7Z"/><path d="M497.4 467.4H526.6L512.0 494.6Z"/><path d="M502.2 476.8H531.4L516.8 504.0Z"/><path d="M507.1 499.2H536.3L521.7 526.4Z"/><path d="M511.9 492.2H541.1L526.5 519.4Z"/><path d="M516.8 507.7H546.0L531.4 534.9Z"/><path d="M521.6 471.5H550.8L536.2 498.7Z"/><path d="M526.5 508.9H555.7L541.1 536.1Z"/><path d="M531.3 523.0H560.5L545.9 550.2Z"/><path d="M536.2 542.3H565.4L550.8 569.5Z"/><path d="M541.0 523.0H570.2L555.6 550.2Z"/><path d="M545.9 521.6H575.1L560.5 548.8Z"/><path d="M550.7 531.0H579.9L565.3 558.2Z"/><path d="M555.6 557.3H584.8L570.2 584.5Z"/><path d="M560.4 557.3H589.6L575.0 584.5Z"/><path d="M565.3 562.0H594.5L579.9 589.2Z"/><path d="M570.1 545.2H599.3L584.7 572.4Z"/><path d="M575.0 565.2H604.2L589.6 592.4Z"/><path d="M579.8 557.3H609.0L594.4 584.5Z"/><path d="M584.7 533.8H613.9L599.3 561.0Z"/><path d="M589.6 598.3H618.8L604.2 625.5Z"/><path d="M594.4 573.4H623.6L609.0 600.6Z"/><path d="M599.3 573.4H628.5L613.9 600.6Z"/><path d="M604.1 604.0H633.3L618.7 631.2Z"/><path d="M609.0 565.2H638.2L623.6 592.4Z"/><path d="M613.8 590.9H643.0L628.4 618.1Z"/><path d="M618.7 583.7H647.9L633.3 610.9Z"/><path d="M623.5 585.5H652.7L638.1 612.7Z"/><path d="M628.4 576.8H657.6L643.0 604.0Z"/><path d="M633.2 616.0H662.4L647.8 643.2Z"/><path d="M638.1 620.1H667.3L652.7 647.3Z"/><path d="M642.9 639.7H672.1L657.5 666.9Z"/><path d="M647.8 644.4H677.0L662.4 671.6Z"/><path d="M652.6 590.9H681.8L667.2 618.1Z"/><path d="M657.5 637.5H686.7L672.1 664.7Z"/><path d="M662.3 666.5H691.5L676.9 693.7Z"/><path d="M667.2 624.3H696.4L681.8 651.5Z"/><path d="M672.0 609.9H701.2L686.6 637.1Z"/><path d="M676.9 666.5H706.1L691.5 693.7Z"/><path d="M681.7 651.5H710.9L696.3 678.7Z"/><path d="M687.3 688.4H716.5L701.9 715.6Z"/><path d="M691.6 642.0H720.8L706.2 669.2Z"/><path d="M696.0 653.9H725.2L710.6 681.1Z"/><path d="M700.3 682.7H729.5L714.9 709.9Z"/><path d="M704.6 671.8H733.8L719.2 699.0Z"/><path d="M709.0 671.8H738.2L723.6 699.0Z"/><path d="M713.3 677.2H742.5L727.9 704.4Z"/><path d="M717.6 682.7H746.8L732.2 709.9Z"/><path d="M722.0 669.1H751.2L736.6 696.3Z"/><path d="M726.3 664.0H755.5L740.9 691.2Z"/><path d="M730.6 653.9H759.8L745.2 681.1Z"/><path d="M735.0 703.3H764.2L749.6 730.5Z"/><path d="M739.3 729.5H768.5L753.9 756.7Z"/><path d="M743.6 688.4H772.8L758.2 715.6Z"/><path d="M747.9 726.0H777.1L762.5 753.2Z"/><path d="M752.3 743.9H781.5L766.9 771.1Z"/><path d="M756.6 671.8H785.8L771.2 699.0Z"/><path d="M760.9 700.2H790.1L775.5 727.4Z"/><path d="M765.3 743.9H794.5L779.9 771.1Z"/><path d="M769.6 776.1H798.8L784.2 803.3Z"/><path d="M773.9 740.2H803.1L788.5 767.4Z"/><path d="M778.3 771.8H807.5L792.9 799.0Z"/><path d="M782.6 763.5H811.8L797.2 790.7Z"/><path d="M786.9 789.5H816.1L801.5 816.7Z"/><path d="M791.3 751.5H820.5L805.9 778.7Z"/><path d="M795.6 824.7H824.8L810.2 851.9Z"/><path d="M799.9 841.7H829.1L814.5 868.9Z"/><path d="M804.3 751.5H833.5L818.9 778.7Z"/><path d="M808.6 824.7H837.8L823.2 851.9Z"/><path d="M812.9 706.4H842.1L827.5 733.6Z"/><path d="M817.3 794.2H846.5L831.9 821.4Z"/><path d="M821.6 785.0H850.8L836.2 812.2Z"/><path d="M825.9 835.9H855.1L840.5 863.1Z"/><path d="M830.3 819.3H859.5L844.9 846.5Z"/><path d="M834.6 767.6H863.8L849.2 794.8Z"/><path d="M838.9 776.1H868.1L853.5 803.3Z"/><path d="M843.3 866.8H872.5L857.9 894.0Z"/><path d="M847.6 780.5H876.8L862.2 807.7Z"/><path d="M851.9 808.9H881.1L866.5 836.1Z"/><path d="M856.3 794.2H885.5L870.9 821.4Z"/><path d="M860.6 824.7H889.8L875.2 851.9Z"/><path d="M864.9 767.6H894.1L879.5 794.8Z"/><path d="M869.3 814.0H898.5L883.9 841.2Z"/><path d="M873.6 860.2H902.8L888.2 887.4Z"/><path d="M877.9 873.5H907.1L892.5 900.7Z"/><path d="M882.3 847.7H911.5L896.9 874.9Z"/><path d="M886.6 880.5H915.8L901.2 907.7Z"/><path d="M890.9 841.7H920.1L905.5 868.9Z"/><path d="M895.3 847.7H924.5L909.9 874.9Z"/><path d="M899.6 841.7H928.8L914.2 868.9Z"/><path d="M903.9 911.0H933.1L918.5 938.2Z"/><path d="M908.3 860.2H937.5L922.9 887.4Z"/><path d="M912.6 873.5H941.8L927.2 900.7Z"/><path d="M916.9 835.9H946.1L931.5 863.1Z"/><path d="M921.2 880.5H950.4L935.8 907.7Z"/><path d="M925.6 902.9H954.8L940.2 930.1Z"/><path d="M929.9 919.3H959.1L944.5 946.5Z"/><path d="M934.2 887.7H963.4L948.8 914.9Z"/><path d="M938.6 808.9H967.8L953.2 836.1Z"/><path d="M942.9 841.7H972.1L957.5 868.9Z"/><path d="M947.2 928.0H976.4L961.8 955.2Z"/><path d="M951.6 866.8H980.8L966.2 894.0Z"/><path d="M955.9 830.2H985.1L970.5 857.4Z"/><path d="M960.2 1014.3H989.4L974.8 1041.5Z"/><path d="M964.6 989.2H993.8L979.2 1016.4Z"/><path d="M968.9 937.1H998.1L983.5 964.3Z"/><path d="M973.2 873.5H1002.4L987.8 900.7Z"/><path d="M977.6 911.0H1006.8L992.2 938.2Z"/><path d="M981.9 966.8H1011.1L996.5 994.0Z"/><path d="M689.0 612.7H718.2L703.6 639.9Z"/><path d="M694.3 632.3H723.5L708.9 659.5Z"/><path d="M704.9 655.4H734.1L719.5 682.6Z"/><path d="M713.8 669.6H743.0L728.4 696.8Z"/><path d="M738.7 673.1H767.9L753.3 700.3Z"/><path d="M744.0 696.2H773.2L758.6 723.4Z"/><path d="M719.1 692.7H748.3L733.7 719.9Z"/><path d="M724.5 715.8H753.7L739.1 743.0Z"/><path d="M756.4 717.5H785.6L771.0 744.7Z"/><path d="M795.5 715.8H824.7L810.1 743.0Z"/><path d="M708.5 737.1H737.7L723.1 764.3Z"/><path d="M740.5 742.4H769.7L755.1 769.6Z"/><path d="M777.8 738.9H807.0L792.4 766.1Z"/><path d="M804.4 746.0H833.6L819.0 773.2Z"/><path d="M788.4 699.8H817.6L803.0 727.0Z"/><path d="M774.2 783.3H803.4L788.8 810.5Z"/><path d="M809.7 774.4H838.9L824.3 801.6Z"/><path d="M838.2 770.8H867.4L852.8 798.0Z"/><path d="M891.4 772.6H920.6L906.0 799.8Z"/><path d="M871.9 779.7H901.1L886.5 806.9Z"/><path d="M839.9 802.8H869.1L854.5 830.0Z"/><path d="M903.9 802.8H933.1L918.5 830.0Z"/><path d="M855.9 827.7H885.1L870.5 854.9Z"/><path d="M884.3 829.4H913.5L898.9 856.6Z"/><path d="M806.2 788.6H835.4L820.8 815.8Z"/><path d="M806.2 818.8H835.4L820.8 846.0Z"/><path d="M761.8 769.0H791.0L776.4 796.2Z"/><path d="M829.3 846.6H858.5L843.9 873.8Z"/><path d="M859.5 851.9H888.7L874.1 879.1Z"/><path d="M909.2 855.4H938.4L923.8 882.6Z"/><path d="M937.6 855.4H966.8L952.2 882.6Z"/><path d="M845.3 878.5H874.5L859.9 905.7Z"/><path d="M875.5 880.3H904.7L890.1 907.5Z"/><path d="M925.2 880.3H954.4L939.8 907.5Z"/><path d="M951.8 876.8H981.0L966.4 904.0Z"/><path d="M973.1 894.5H1002.3L987.7 921.7Z"/><path d="M868.3 903.4H897.5L882.9 930.6Z"/><path d="M907.4 891.0H936.6L922.0 918.2Z"/><path d="M935.8 915.8H965.0L950.4 943.0Z"/><path d="M916.3 937.1H945.5L930.9 964.3Z"/><path d="M942.9 935.4H972.1L957.5 962.6Z"/><path d="M976.7 942.5H1005.9L991.3 969.7Z"/><path d="M946.5 956.7H975.7L961.1 983.9Z"/><path d="M964.3 960.2H993.5L978.9 987.4Z"/><path d="M987.2 889.1H1016.4L1001.8 916.3Z"/><path d="M1008.0 913.8H1037.2L1022.6 941.0Z"/><path d="M994.3 940.4H1023.5L1008.9 967.6Z"/><path d="M1020.9 949.3H1050.1L1035.5 976.5Z"/><path d="M1039.6 968.8H1068.8L1054.2 996.0Z"/><path d="M1098.5 930.6H1127.7L1113.1 957.8Z"/><path d="M1107.6 968.8H1136.8L1122.2 996.0Z"/><path d="M992.5 848.9H1021.7L1007.1 876.1Z"/><path d="M1012.0 979.5H1041.2L1026.6 1006.7Z"/><path d="M1090.2 1002.5H1119.4L1104.8 1029.7Z"/><path d="M1134.6 1013.2H1163.8L1149.2 1040.4Z"/><path d="M992.5 1025.6H1021.7L1007.1 1052.8Z"/><path d="M1180.8 1027.4H1210.0L1195.4 1054.6Z"/><path d="M1219.9 1027.4H1249.1L1234.5 1054.6Z"/><path d="M1267.8 1027.4H1297.0L1282.4 1054.6Z"/><path d="M1003.2 1055.8H1032.4L1017.8 1083.0Z"/><path d="M1029.8 1054.1H1059.0L1044.4 1081.3Z"/><path d="M1086.6 1057.6H1115.8L1101.2 1084.8Z"/><path d="M1111.5 1057.6H1140.7L1126.1 1084.8Z"/><path d="M1145.3 1055.8H1174.5L1159.9 1083.0Z"/><path d="M1186.1 1054.1H1215.3L1200.7 1081.3Z"/><path d="M1013.8 1078.9H1043.0L1028.4 1106.1Z"/><path d="M1033.4 1075.4H1062.6L1048.0 1102.6Z"/><path d="M1063.6 1073.6H1092.8L1078.2 1100.8Z"/><path d="M1166.6 1071.8H1195.8L1181.2 1099.0Z"/><path d="M1214.5 1075.4H1243.7L1229.1 1102.6Z"/><path d="M1095.5 1093.1H1124.7L1110.1 1120.3Z"/><path d="M1177.2 1089.6H1206.4L1191.8 1116.8Z"/><path d="M1138.2 1112.7H1167.4L1152.8 1139.9Z"/><path d="M1196.8 1112.7H1226.0L1211.4 1139.9Z"/><path d="M1251.8 1107.3H1281.0L1266.4 1134.5Z"/><path d="M1155.9 1160.6H1185.1L1170.5 1187.8Z"/><path d="M1234.1 1160.6H1263.3L1248.7 1187.8Z"/><path d="M1141.7 1190.8H1170.9L1156.3 1218.0Z"/><path d="M1241.2 1190.8H1270.4L1255.8 1218.0Z"/><path d="M1251.8 1224.6H1281.0L1266.4 1251.8Z"/><path d="M1276.7 1091.4H1305.9L1291.3 1118.6Z"/><path d="M1278.5 1160.6H1307.7L1293.1 1187.8Z"/><path d="M1056.4 1022.1H1085.6L1071.0 1049.3Z"/><path d="M1120.4 1027.4H1149.6L1135.0 1054.6Z"/><path d="M1238.1 1263.3H1267.3L1252.7 1290.5Z"/><path d="M1277.1 1312.5H1306.3L1291.7 1339.7Z"/><path d="M1283.0 1094.0H1312.2L1297.6 1121.2Z"/><path d="M1419.4 1094.0H1448.6L1434.0 1121.2Z"/><path d="M1300.0 1136.7H1329.2L1314.6 1163.9Z"/><path d="M1345.5 1136.7H1374.7L1360.1 1163.9Z"/><path d="M1389.1 1136.7H1418.3L1403.7 1163.9Z"/><path d="M1457.3 1136.7H1486.5L1471.9 1163.9Z"/><path d="M1287.8 1161.8H1317.0L1302.4 1189.0Z"/><path d="M1308.6 1161.8H1337.8L1323.2 1189.0Z"/><path d="M1337.6 1161.8H1366.8L1352.2 1189.0Z"/><path d="M1366.6 1161.8H1395.8L1381.2 1189.0Z"/><path d="M1534.5 1161.8H1563.7L1549.1 1189.0Z"/><path d="M1565.6 1161.8H1594.8L1580.2 1189.0Z"/><path d="M1294.1 1190.2H1323.3L1308.7 1217.4Z"/><path d="M1321.0 1190.2H1350.2L1335.6 1217.4Z"/><path d="M1335.5 1190.2H1364.7L1350.1 1217.4Z"/><path d="M1362.4 1190.2H1391.6L1377.0 1217.4Z"/><path d="M1410.1 1190.2H1439.3L1424.7 1217.4Z"/><path d="M1437.1 1190.2H1466.3L1451.7 1217.4Z"/><path d="M1466.1 1190.2H1495.3L1480.7 1217.4Z"/><path d="M1478.5 1190.2H1507.7L1493.1 1217.4Z"/><path d="M1526.2 1190.2H1555.4L1540.8 1217.4Z"/><path d="M1569.7 1190.2H1598.9L1584.3 1217.4Z"/><path d="M1318.9 1223.0H1348.1L1333.5 1250.2Z"/><path d="M1358.3 1223.0H1387.5L1372.9 1250.2Z"/><path d="M1387.3 1223.0H1416.5L1401.9 1250.2Z"/><path d="M1397.7 1223.0H1426.9L1412.3 1250.2Z"/><path d="M1428.8 1223.0H1458.0L1443.4 1250.2Z"/><path d="M1503.4 1223.0H1532.6L1518.0 1250.2Z"/><path d="M1310.6 1261.8H1339.8L1325.2 1289.0Z"/><path d="M1370.7 1261.8H1399.9L1385.3 1289.0Z"/><path d="M1463.0 1261.8H1492.2L1477.6 1289.0Z"/><path d="M1532.4 1261.8H1561.6L1547.0 1289.0Z"/><path d="M1579.0 1261.8H1608.2L1593.6 1289.0Z"/><path d="M1288.9 1309.3H1318.1L1303.5 1336.5Z"/><path d="M1325.1 1309.3H1354.3L1339.7 1336.5Z"/><path d="M1341.7 1309.3H1370.9L1356.3 1336.5Z"/><path d="M1383.2 1309.3H1412.4L1397.8 1336.5Z"/><path d="M1424.6 1309.3H1453.8L1439.2 1336.5Z"/><path d="M1455.7 1309.3H1484.9L1470.3 1336.5Z"/><path d="M1495.1 1309.3H1524.3L1509.7 1336.5Z"/><path d="M1520.0 1309.3H1549.2L1534.6 1336.5Z"/><path d="M1549.0 1309.3H1578.2L1563.6 1336.5Z"/><path d="M1592.5 1309.3H1621.7L1607.1 1336.5Z"/><path d="M1315.8 1370.5H1345.0L1330.4 1397.7Z"/><path d="M1355.2 1370.5H1384.4L1369.8 1397.7Z"/><path d="M1412.2 1370.5H1441.4L1426.8 1397.7Z"/><path d="M1439.1 1370.5H1468.3L1453.7 1397.7Z"/><path d="M1480.6 1370.5H1509.8L1495.2 1397.7Z"/><path d="M1490.9 1370.5H1520.1L1505.5 1397.7Z"/><path d="M1520.0 1370.5H1549.2L1534.6 1397.7Z"/><path d="M1557.3 1370.5H1586.5L1571.9 1397.7Z"/><path d="M1590.4 1370.5H1619.6L1605.0 1397.7Z"/><path d="M1379.0 1456.8H1408.2L1393.6 1484.0Z"/><path d="M1401.8 1456.8H1431.0L1416.4 1484.0Z"/><path d="M1445.3 1456.8H1474.5L1459.9 1484.0Z"/><path d="M1470.2 1456.8H1499.4L1484.8 1484.0Z"/><path d="M1488.9 1456.8H1518.1L1503.5 1484.0Z"/><path d="M1536.5 1456.8H1565.7L1551.1 1484.0Z"/><path d="M1544.8 1456.8H1574.0L1559.4 1484.0Z"/><path d="M1563.5 1456.8H1592.7L1578.1 1484.0Z"/><path d="M1800.4 1190.2H1829.6L1815.0 1217.4Z"/><path d="M1657.4 1223.0H1686.6L1672.0 1250.2Z"/><path d="M1714.2 1223.0H1743.4L1728.8 1250.2Z"/><path d="M1760.7 1223.0H1789.9L1775.3 1250.2Z"/><path d="M1588.6 1261.8H1617.8L1603.2 1289.0Z"/><path d="M1627.8 1261.8H1657.0L1642.4 1289.0Z"/><path d="M1825.2 1261.8H1854.4L1839.8 1289.0Z"/><path d="M1847.5 1261.8H1876.7L1862.1 1289.0Z"/><path d="M1601.4 1309.3H1630.6L1616.0 1336.5Z"/><path d="M1639.7 1309.3H1668.9L1654.3 1336.5Z"/><path d="M1730.9 1309.3H1760.1L1745.5 1336.5Z"/><path d="M1822.0 1309.3H1851.2L1836.6 1336.5Z"/><path d="M1593.4 1370.5H1622.6L1608.0 1397.7Z"/><path d="M1625.4 1370.5H1654.6L1640.0 1397.7Z"/><path d="M1633.4 1370.5H1662.6L1648.0 1397.7Z"/><path d="M1650.9 1370.5H1680.1L1665.5 1397.7Z"/><path d="M1670.1 1370.5H1699.3L1684.7 1397.7Z"/><path d="M1682.9 1370.5H1712.1L1697.5 1397.7Z"/><path d="M1727.7 1370.5H1756.9L1742.3 1397.7Z"/><path d="M1814.0 1370.5H1843.2L1828.6 1397.7Z"/><path d="M1830.0 1370.5H1859.2L1844.6 1397.7Z"/><path d="M1847.5 1370.5H1876.7L1862.1 1397.7Z"/><path d="M1868.3 1370.5H1897.5L1882.9 1397.7Z"/><path d="M1622.2 1456.8H1651.4L1636.8 1484.0Z"/><path d="M1644.5 1456.8H1673.7L1659.1 1484.0Z"/><path d="M1660.5 1456.8H1689.7L1675.1 1484.0Z"/><path d="M1674.9 1456.8H1704.1L1689.5 1484.0Z"/><path d="M1684.5 1456.8H1713.7L1699.1 1484.0Z"/><path d="M1694.1 1456.8H1723.3L1708.7 1484.0Z"/><path d="M1708.5 1456.8H1737.7L1723.1 1484.0Z"/><path d="M1743.6 1456.8H1772.8L1758.2 1484.0Z"/><path d="M1762.8 1456.8H1792.0L1777.4 1484.0Z"/><path d="M1788.4 1456.8H1817.6L1803.0 1484.0Z"/><path d="M1812.4 1456.8H1841.6L1827.0 1484.0Z"/><path d="M1825.2 1456.8H1854.4L1839.8 1484.0Z"/><path d="M1844.4 1456.8H1873.6L1859.0 1484.0Z"/><path d="M1873.1 1456.8H1902.3L1887.7 1484.0Z"/><path d="M1981.9 1161.8H2011.1L1996.5 1189.0Z"/><path d="M2029.4 1190.2H2058.6L2044.0 1217.4Z"/><path d="M2085.9 1190.2H2115.1L2100.5 1217.4Z"/><path d="M2120.4 1261.8H2149.6L2135.0 1289.0Z"/><path d="M1943.9 1309.3H1973.1L1958.5 1336.5Z"/><path d="M1970.1 1309.3H1999.3L1984.7 1336.5Z"/><path d="M2064.4 1309.3H2093.6L2079.0 1336.5Z"/><path d="M1899.4 1370.5H1928.6L1914.0 1397.7Z"/><path d="M1925.9 1370.5H1955.1L1940.5 1397.7Z"/><path d="M1938.3 1370.5H1967.5L1952.9 1397.7Z"/><path d="M1972.6 1370.5H2001.8L1987.2 1397.7Z"/><path d="M1999.0 1370.5H2028.2L2013.6 1397.7Z"/><path d="M2022.4 1370.5H2051.6L2037.0 1397.7Z"/><path d="M2042.6 1370.5H2071.8L2057.2 1397.7Z"/><path d="M2072.2 1370.5H2101.4L2086.8 1397.7Z"/><path d="M2094.0 1370.5H2123.2L2108.6 1397.7Z"/><path d="M2103.3 1370.5H2132.5L2117.9 1397.7Z"/><path d="M2114.2 1370.5H2143.4L2128.8 1397.7Z"/><path d="M2134.5 1370.5H2163.7L2149.1 1397.7Z"/><path d="M1888.5 1456.8H1917.7L1903.1 1484.0Z"/><path d="M1904.1 1456.8H1933.3L1918.7 1484.0Z"/><path d="M1921.2 1456.8H1950.4L1935.8 1484.0Z"/><path d="M1952.3 1456.8H1981.5L1966.9 1484.0Z"/><path d="M1991.3 1456.8H2020.5L2005.9 1484.0Z"/><path d="M2016.2 1456.8H2045.4L2030.8 1484.0Z"/><path d="M2025.5 1456.8H2054.7L2040.1 1484.0Z"/><path d="M2041.1 1456.8H2070.3L2055.7 1484.0Z"/><path d="M2067.5 1456.8H2096.7L2082.1 1484.0Z"/><path d="M2106.4 1456.8H2135.6L2121.0 1484.0Z"/><path d="M2134.5 1456.8H2163.7L2149.1 1484.0Z"/><path d="M2159.4 1456.8H2188.6L2174.0 1484.0Z"/><path d="M2181.2 1456.8H2210.4L2195.8 1484.0Z"/><path d="M2195.2 1456.8H2224.4L2209.8 1484.0Z"/></g>
</g>
<g stroke="#000" fill="none">
<path d="M152.5 20.5H2239" stroke-width="7.5"/>
<path d="M152.5 1531.1H2239" stroke-width="7.6"/>
<path d="M156 17V1535" stroke-width="6.2"/>
<path d="M2235.5 17V1535" stroke-width="6.2"/>
<line x1="156.0" y1="1531" x2="156.0" y2="1562" stroke-width="6"/>
<line x1="190.7" y1="1531" x2="190.7" y2="1549" stroke-width="6"/>
<line x1="225.3" y1="1531" x2="225.3" y2="1549" stroke-width="6"/>
<line x1="260.0" y1="1531" x2="260.0" y2="1549" stroke-width="6"/>
<line x1="294.6" y1="1531" x2="294.6" y2="1549" stroke-width="6"/>
<line x1="329.3" y1="1531" x2="329.3" y2="1562" stroke-width="6"/>
<line x1="364.0" y1="1531" x2="364.0" y2="1549" stroke-width="6"/>
<line x1="398.6" y1="1531" x2="398.6" y2="1549" stroke-width="6"/>
<line x1="433.3" y1="1531" x2="433.3" y2="1549" stroke-width="6"/>
<line x1="467.9" y1="1531" x2="467.9" y2="1549" stroke-width="6"/>
<line x1="502.6" y1="1531" x2="502.6" y2="1562" stroke-width="6"/>
<line x1="537.2" y1="1531" x2="537.2" y2="1549" stroke-width="6"/>
<line x1="571.9" y1="1531" x2="571.9" y2="1549" stroke-width="6"/>
<line x1="606.6" y1="1531" x2="606.6" y2="1549" stroke-width="6"/>
<line x1="641.2" y1="1531" x2="641.2" y2="1549" stroke-width="6"/>
<line x1="675.9" y1="1531" x2="675.9" y2="1562" stroke-width="6"/>
<line x1="710.5" y1="1531" x2="710.5" y2="1549" stroke-width="6"/>
<line x1="745.2" y1="1531" x2="745.2" y2="1549" stroke-width="6"/>
<line x1="779.9" y1="1531" x2="779.9" y2="1549" stroke-width="6"/>
<line x1="814.5" y1="1531" x2="814.5" y2="1549" stroke-width="6"/>
<line x1="849.2" y1="1531" x2="849.2" y2="1562" stroke-width="6"/>
<line x1="883.8" y1="1531" x2="883.8" y2="1549" stroke-width="6"/>
<line x1="918.5" y1="1531" x2="918.5" y2="1549" stroke-width="6"/>
<line x1="953.1" y1="1531" x2="953.1" y2="1549" stroke-width="6"/>
<line x1="987.8" y1="1531" x2="987.8" y2="1549" stroke-width="6"/>
<line x1="1022.5" y1="1531" x2="1022.5" y2="1562" stroke-width="6"/>
<line x1="1057.1" y1="1531" x2="1057.1" y2="1549" stroke-width="6"/>
<line x1="1091.8" y1="1531" x2="1091.8" y2="1549" stroke-width="6"/>
<line x1="1126.4" y1="1531" x2="1126.4" y2="1549" stroke-width="6"/>
<line x1="1161.1" y1="1531" x2="1161.1" y2="1549" stroke-width="6"/>
<line x1="1195.8" y1="1531" x2="1195.8" y2="1562" stroke-width="6"/>
<line x1="1230.4" y1="1531" x2="1230.4" y2="1549" stroke-width="6"/>
<line x1="1265.1" y1="1531" x2="1265.1" y2="1549" stroke-width="6"/>
<line x1="1299.7" y1="1531" x2="1299.7" y2="1549" stroke-width="6"/>
<line x1="1334.4" y1="1531" x2="1334.4" y2="1549" stroke-width="6"/>
<line x1="1369.0" y1="1531" x2="1369.0" y2="1562" stroke-width="6"/>
<line x1="1403.7" y1="1531" x2="1403.7" y2="1549" stroke-width="6"/>
<line x1="1438.4" y1="1531" x2="1438.4" y2="1549" stroke-width="6"/>
<line x1="1473.0" y1="1531" x2="1473.0" y2="1549" stroke-width="6"/>
<line x1="1507.7" y1="1531" x2="1507.7" y2="1549" stroke-width="6"/>
<line x1="1542.3" y1="1531" x2="1542.3" y2="1562" stroke-width="6"/>
<line x1="1577.0" y1="1531" x2="1577.0" y2="1549" stroke-width="6"/>
<line x1="1611.6" y1="1531" x2="1611.6" y2="1549" stroke-width="6"/>
<line x1="1646.3" y1="1531" x2="1646.3" y2="1549" stroke-width="6"/>
<line x1="1681.0" y1="1531" x2="1681.0" y2="1549" stroke-width="6"/>
<line x1="1715.6" y1="1531" x2="1715.6" y2="1562" stroke-width="6"/>
<line x1="1750.3" y1="1531" x2="1750.3" y2="1549" stroke-width="6"/>
<line x1="1784.9" y1="1531" x2="1784.9" y2="1549" stroke-width="6"/>
<line x1="1819.6" y1="1531" x2="1819.6" y2="1549" stroke-width="6"/>
<line x1="1854.3" y1="1531" x2="1854.3" y2="1549" stroke-width="6"/>
<line x1="1888.9" y1="1531" x2="1888.9" y2="1562" stroke-width="6"/>
<line x1="1923.6" y1="1531" x2="1923.6" y2="1549" stroke-width="6"/>
<line x1="1958.2" y1="1531" x2="1958.2" y2="1549" stroke-width="6"/>
<line x1="1992.9" y1="1531" x2="1992.9" y2="1549" stroke-width="6"/>
<line x1="2027.6" y1="1531" x2="2027.6" y2="1549" stroke-width="6"/>
<line x1="2062.2" y1="1531" x2="2062.2" y2="1562" stroke-width="6"/>
<line x1="2096.9" y1="1531" x2="2096.9" y2="1549" stroke-width="6"/>
<line x1="2131.5" y1="1531" x2="2131.5" y2="1549" stroke-width="6"/>
<line x1="2166.2" y1="1531" x2="2166.2" y2="1549" stroke-width="6"/>
<line x1="2200.8" y1="1531" x2="2200.8" y2="1549" stroke-width="6"/>
<line x1="2235.5" y1="1531" x2="2235.5" y2="1562" stroke-width="6"/>
</g>
<g font-family="Liberation Sans, Arial, sans-serif" font-size="60" fill="#000" text-anchor="middle">
<text x="156.0" y="1623">0</text>
<text x="329.3" y="1623">1</text>
<text x="502.6" y="1623">2</text>
<text x="675.9" y="1623">3</text>
<text x="849.2" y="1623">4</text>
<text x="1022.5" y="1623">5</text>
<text x="1195.8" y="1623">6</text>
<text x="1369.0" y="1623">7</text>
<text x="1542.3" y="1623">8</text>
<text x="1715.6" y="1623">9</text>
<text x="1888.9" y="1623">10</text>
<text x="2062.2" y="1623">11</text>
<text x="2235.5" y="1623">12</text>
</g>
<text font-family="Liberation Sans, Arial, sans-serif" font-size="72.6" x="1197" y="1733" text-anchor="middle">Decay time (ms)</text>
<text font-family="Liberation Sans, Arial, sans-serif" font-size="72" transform="translate(67 776) rotate(-90)" text-anchor="middle">Normalized intensity (arb. u .)</text>
<rect x="202" y="887" width="505" height="602" fill="#000"/>
<rect x="180.5" y="866.2" width="507.4" height="603" fill="#fff"/>
<rect x="180.3" y="866.2" width="2.8" height="603" fill="#c4c6be"/>
<rect x="183" y="866.2" width="2.4" height="603" fill="#8a8a8a"/>
<rect x="685" y="866.2" width="2.9" height="603" fill="#86807e"/>
<rect x="180.3" y="866.2" width="507.6" height="2.8" fill="#2c3636"/>
<rect x="183" y="1467.6" width="504.9" height="2.6" fill="#0a0a0a"/>
<rect x="261.5" y="933.5" width="27" height="27" fill="none" stroke="#ff0000" stroke-width="5"/>
<circle cx="273.5" cy="1040.5" r="15" fill="none" stroke="#00ee00" stroke-width="5"/>
<path d="M257 1123H293L275 1155Z" fill="none" stroke="#0000ff" stroke-width="5"/>
<g font-family="Liberation Sans, Arial, sans-serif" font-size="55" fill="#000">
<text x="351.5" y="966">1 mol% Eu<tspan font-size="35" dy="-26">3+</tspan></text>
<text x="351.5" y="1059">3 mol% Eu<tspan font-size="35" dy="-26">3+</tspan></text>
<text x="351.5" y="1152.5">5 mol% Eu<tspan font-size="35" dy="-26">3+</tspan></text>
</g>
<g font-family="Liberation Sans, Arial, sans-serif" fill="#000">
<text x="212" y="1313" font-size="49" font-family="Noto Serif CJK SC, Liberation Serif, serif">λ</text><text x="241" y="1332" font-size="35">exc</text><text x="309" y="1313" font-size="56">= 394.5 nm</text>
<text x="212" y="1404" font-size="49" font-family="Noto Serif CJK SC, Liberation Serif, serif">λ</text><text x="242" y="1423" font-size="34">mon</text><text x="322" y="1404" font-size="56">= 616 nm</text>
</g>
<rect x="1150" y="30" width="1066.5" height="686" fill="#fff" stroke="#111" stroke-width="4"/>
<g stroke="#000" stroke-width="3.5">
<line x1="1136" y1="716.0" x2="1150" y2="716.0"/>
<line x1="1142" y1="643.9" x2="1150" y2="643.9"/>
<line x1="1136" y1="571.7" x2="1150" y2="571.7"/>
<line x1="1142" y1="499.6" x2="1150" y2="499.6"/>
<line x1="1136" y1="427.5" x2="1150" y2="427.5"/>
<line x1="1142" y1="355.4" x2="1150" y2="355.4"/>
<line x1="1136" y1="283.2" x2="1150" y2="283.2"/>
<line x1="1142" y1="211.1" x2="1150" y2="211.1"/>
<line x1="1136" y1="139.0" x2="1150" y2="139.0"/>
<line x1="1142" y1="66.9" x2="1150" y2="66.9"/>
<line x1="1162.2" y1="716" x2="1162.2" y2="723"/>
<line x1="1209.5" y1="716" x2="1209.5" y2="731"/>
<line x1="1256.8" y1="716" x2="1256.8" y2="723"/>
<line x1="1304.2" y1="716" x2="1304.2" y2="723"/>
<line x1="1351.5" y1="716" x2="1351.5" y2="723"/>
<line x1="1398.9" y1="716" x2="1398.9" y2="723"/>
<line x1="1446.2" y1="716" x2="1446.2" y2="731"/>
<line x1="1493.5" y1="716" x2="1493.5" y2="723"/>
<line x1="1540.9" y1="716" x2="1540.9" y2="723"/>
<line x1="1588.2" y1="716" x2="1588.2" y2="723"/>
<line x1="1635.6" y1="716" x2="1635.6" y2="723"/>
<line x1="1682.9" y1="716" x2="1682.9" y2="731"/>
<line x1="1730.2" y1="716" x2="1730.2" y2="723"/>
<line x1="1777.6" y1="716" x2="1777.6" y2="723"/>
<line x1="1824.9" y1="716" x2="1824.9" y2="723"/>
<line x1="1872.3" y1="716" x2="1872.3" y2="723"/>
<line x1="1919.6" y1="716" x2="1919.6" y2="731"/>
<line x1="1966.9" y1="716" x2="1966.9" y2="723"/>
<line x1="2014.3" y1="716" x2="2014.3" y2="723"/>
<line x1="2061.6" y1="716" x2="2061.6" y2="723"/>
<line x1="2109.0" y1="716" x2="2109.0" y2="723"/>
<line x1="2156.3" y1="716" x2="2156.3" y2="731"/>
<line x1="2203.6" y1="716" x2="2203.6" y2="723"/>
</g>
<g font-family="Liberation Sans, Arial, sans-serif" font-size="36" fill="#000">
<text x="1127" y="726.0" text-anchor="end">1.2</text>
<text x="1127" y="581.7" text-anchor="end">1.3</text>
<text x="1127" y="437.5" text-anchor="end">1.4</text>
<text x="1127" y="293.2" text-anchor="end">1.5</text>
<text x="1127" y="149.0" text-anchor="end">1.6</text>
<text x="1209.5" y="767" text-anchor="middle">1</text>
<text x="1446.2" y="767" text-anchor="middle">2</text>
<text x="1682.9" y="767" text-anchor="middle">3</text>
<text x="1919.6" y="767" text-anchor="middle">4</text>
<text x="2156.3" y="767" text-anchor="middle">5</text>
</g>
<text font-family="Liberation Sans, Arial, sans-serif" font-size="43" x="1443" y="828" letter-spacing="0.45">Eu<tspan font-size="26" dy="-18">3+</tspan><tspan dy="18"> ions concentration (mol%)</tspan></text>
<text font-family="Liberation Sans, Arial, sans-serif" font-size="44" transform="translate(1047 372) rotate(-90)" text-anchor="middle">Decay time (ms)</text>
<polyline fill="none" stroke="#000" stroke-width="3" points="1209.5,206.8 1682.9,488.1 2156.3,553.7"/>
<g stroke="#000" stroke-width="4"><line x1="1209.5" y1="94.3" x2="1209.5" y2="318.6"/><line x1="1201.5" y1="94.3" x2="1217.5" y2="94.3"/><line x1="1201.5" y1="318.6" x2="1217.5" y2="318.6"/></g>
<rect x="1201.5" y="199.3" width="16" height="15" fill="#000"/>
<g stroke="#000" stroke-width="4"><line x1="1682.9" y1="387.8" x2="1682.9" y2="584.7"/><line x1="1674.9" y1="387.8" x2="1690.9" y2="387.8"/><line x1="1674.9" y1="584.7" x2="1690.9" y2="584.7"/></g>
<rect x="1674.9" y="480.6" width="16" height="15" fill="#000"/>
<g stroke="#000" stroke-width="4"><line x1="2156.3" y1="459.2" x2="2156.3" y2="647.5"/><line x1="2148.3" y1="459.2" x2="2164.3" y2="459.2"/><line x1="2148.3" y1="647.5" x2="2164.3" y2="647.5"/></g>
<rect x="2148.3" y="546.2" width="16" height="15" fill="#000"/>
</svg></body></html>
